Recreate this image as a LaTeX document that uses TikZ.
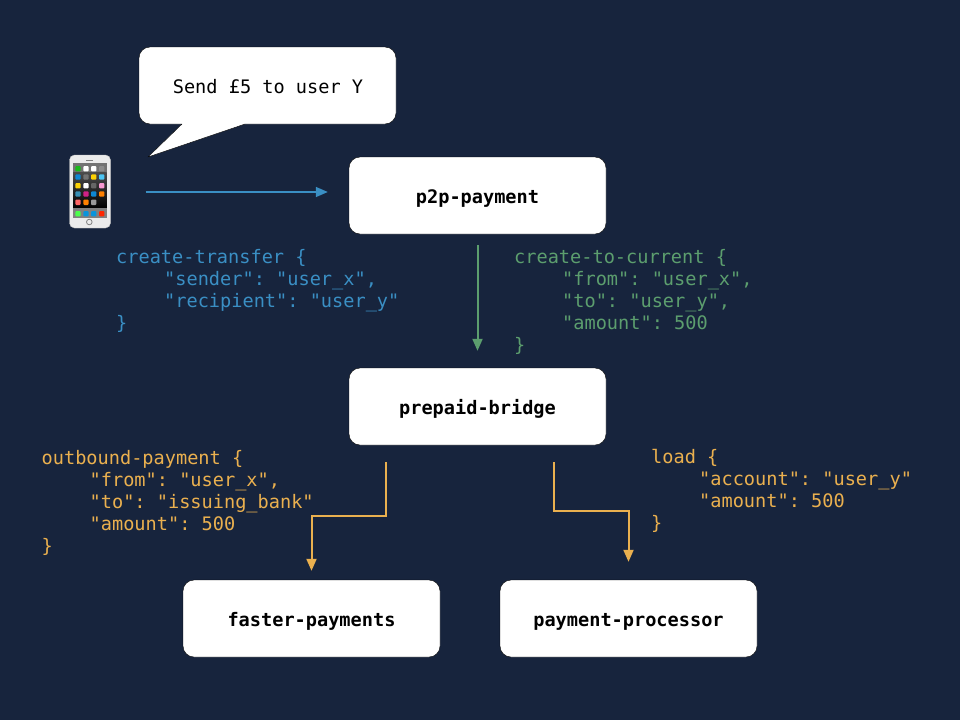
\documentclass[tikz,border=0pt]{standalone}
\usepackage{fontspec}
\setmonofont{DejaVu Sans Mono}
\usetikzlibrary{calc,positioning,arrows.meta}
\definecolor{navy}{RGB}{23,36,61}
\definecolor{msgblue}{RGB}{58,143,196}
\definecolor{msggreen}{RGB}{92,158,110}
\definecolor{msgorange}{RGB}{234,176,79}
\newcommand{\tabin}{\hspace*{48pt}}
\tikzset{
>={Triangle[length=12pt,width=10pt]},
  service/.style={
    rectangle,
    rounded corners=11pt,
    fill=white,
    draw=black,
    minimum width=257pt,
    minimum height=77pt,
    text height=15pt,
    text depth=0pt,
    font=\ttfamily\bfseries\fontsize{18.6}{22}\selectfont},
  payload/.style={
    anchor=north west,
    inner sep=0pt,
    align=left,
    font=\ttfamily\fontsize{18.6}{22}\selectfont},
  flow/.style={draw, line width=2pt, ->},
  bubble/.style={fill=white, draw=black, line join=round},
  appicon/.style={rounded corners=1pt},
}
\begin{document}
\begin{tikzpicture}[x=1pt,y=-1pt]

\fill[navy] (0,0) rectangle (960,720);
\useasboundingbox (0,0) rectangle (960,720);

% speech bubble
\draw[bubble] (182,124) [rounded corners=11pt] -- (139,124) -- (139,47) -- (396,47) -- (396,124) [sharp corners] -- (245,124) -- (148,157) -- cycle;
\node[font=\ttfamily\fontsize{18.6}{22}\selectfont, inner sep=0pt] (sendtext) at (268,87) {Send £5 to user Y};

% phone
\node[rectangle, rounded corners=5pt, fill=black!8, draw=black!25, minimum width=41pt, minimum height=73pt, inner sep=0pt] (phone) at (90,191.5) {};
\fill[black!55] (73,163) rectangle (106.7,218);
\shade[top color=black!70, bottom color=black] (73,172) rectangle (106.7,208);
\fill[black!50] (73,208) rectangle (106.7,218);
\foreach \col/\row/\tint in {
  78/168.7/green!70!black!90, 86/168.7/white, 93.7/168.7/white, 101.7/168.7/black!45,
  78/177/cyan!70!blue, 86/177/black!55, 93.7/177/yellow!70!orange, 101.7/177/cyan!70!white,
  78/185.7/yellow!70!orange, 86/185.7/white, 93.7/185.7/black!60, 101.7/185.7/magenta!40!white,
  78/194/cyan!70!black, 86/194/magenta!70!violet, 93.7/194/cyan!70!blue, 101.7/194/orange,
  78/202.3/red!60!white, 86/202.3/orange, 93.7/202.3/black!40,
  78/213.7/green!70!white, 86/213.7/cyan!80!blue, 93.7/213.7/cyan!80!blue, 101.7/213.7/red!70!orange}{
  \fill[appicon, \tint] (\col-2.7,\row-2.7) rectangle (\col+2.7,\row+2.7);
}
\draw[black!50, line width=0.8pt] (89.3,222) circle (2.8);
\fill[black!50] (86,159.7) rectangle (93,161);

% services
\node[service] (p2p) at (477.5,195.5) {p2p-payment};
\node[service] (bridge) at (477.5,406.5) {prepaid-bridge};
\node[service] (faster) at (311.5,618.5) {faster-payments};
\node[service] (processor) at (628.5,618.5) {payment-processor};

% messages
\node[payload, msgblue] (transfer) at (116,249.5) {create-transfer \{\\\tabin"sender": "user\_x",\\\tabin"recipient": "user\_y"\\\}};
\node[payload, msggreen] (current) at (514,249.5) {create-to-current \{\\\tabin"from": "user\_x",\\\tabin"to": "user\_y",\\\tabin"amount": 500\\\}};
\node[payload, msgorange] (outbound) at (41.5,450) {outbound-payment \{\\\tabin"from": "user\_x",\\\tabin"to": "issuing\_bank"\\\tabin"amount": 500\\\}};
\node[payload, msgorange] (load) at (651,449.5) {load \{\\\tabin"account": "user\_y"\\\tabin"amount": 500\\\}};

% connectors
\draw[flow, msgblue, line width=1.5pt, shorten <=35pt, shorten >=21pt] (phone.east |- 0,192) -- (p2p.west |- 0,192);
\draw[flow, msggreen, shorten <=11pt, shorten >=17pt] (p2p) -- (bridge);

\coordinate (bridgeleft) at ($(bridge.south)+(-92,0)$);
\coordinate (bridgeright) at ($(bridge.south)+(76.5,0)$);
\draw[flow, msgorange, shorten <=17pt, shorten >=9pt] (bridgeleft) |- (311.5,516) -- (faster.north);
\draw[flow, msgorange, shorten <=17pt, shorten >=18pt] (bridgeright) |- (628.5,511) -- (processor.north);

\end{tikzpicture}
\end{document}
